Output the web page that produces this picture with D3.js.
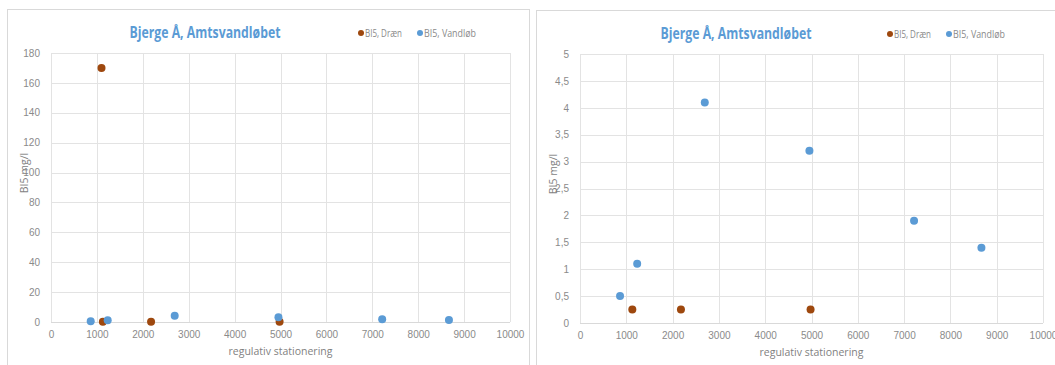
<!DOCTYPE html>
<html>
<head>
<meta charset="utf-8">
<script src="https://cdn.jsdelivr.net/npm/d3@7"></script>
<style>
  html, body { margin: 0; padding: 0; background: #fff; }
  svg { display: block; font-family: "Open Sans", "Liberation Sans", sans-serif; }
</style>
</head>
<body>
<svg id="chart" width="1055" height="365"></svg>
<script>
// Station (regulativ stationering) and BI5 values per series
const draenX = [1100, 1130, 2180, 4980];
const draenY = [170, 0.25, 0.25, 0.25];
const vandlobX = [865, 1235, 2695, 4955, 7215, 8670];
const vandlobY = [0.5, 1.1, 4.1, 3.2, 1.9, 1.4];

const titleText = "Bjerge Å, Amtsvandløbet";
const seriesNames = ["BI5, Dræn", "BI5, Vandløb"];
const xLabel = "regulativ stationering";
const yLabel = "BI5 mg/l";
const xTicks = [0, 1000, 2000, 3000, 4000, 5000, 6000, 7000, 8000, 9000, 10000];
const yTicksLeft = [0, 20, 40, 60, 80, 100, 120, 140, 160, 180];
const yTicksRight = [0, 0.5, 1, 1.5, 2, 2.5, 3, 3.5, 4, 4.5, 5];

const colors = ["#9E480E", "#5B9BD5"];
const series = [
  { name: seriesNames[0], color: colors[0], pts: draenX.map((x, i) => ({ x, y: draenY[i] })) },
  { name: seriesNames[1], color: colors[1], pts: vandlobX.map((x, i) => ({ x, y: vandlobY[i] })) }
];

const svg = d3.select("#chart");
const fmt = d3.formatLocale({ decimal: ",", thousands: ".", grouping: [3], currency: ["", " kr"] }).format("~g");

// squeeze a text horizontally to a given width, keeping its height
function squeeze(sel, width) {
  if (sel.node().getComputedTextLength() > width) {
    sel.attr("textLength", width).attr("lengthAdjust", "spacingAndGlyphs");
  }
  return sel;
}

function panel(opts) {
  const g = svg.append("g");
  // chart frame
  g.append("rect")
    .attr("x", opts.frame[0] + 0.5).attr("y", opts.frame[1] + 0.5)
    .attr("width", opts.frame[2]).attr("height", opts.frame[3])
    .attr("fill", "#fff").attr("stroke", "#d9d9d9");

  const x = d3.scaleLinear().domain([0, 10000]).range([opts.plot[0], opts.plot[1]]);
  const y = d3.scaleLinear().domain(opts.yDomain).range([opts.plot[3], opts.plot[2]]);

  // gridlines
  g.append("g").selectAll("line").data(xTicks.slice(1)).join("line")
    .attr("x1", d => Math.round(x(d)) + 0.5).attr("x2", d => Math.round(x(d)) + 0.5)
    .attr("y1", opts.plot[2]).attr("y2", opts.plot[3])
    .attr("stroke", "#e3e3e3");
  g.append("g").selectAll("line").data(opts.yTicks.slice(1)).join("line")
    .attr("x1", opts.plot[0]).attr("x2", opts.plot[1])
    .attr("y1", d => Math.round(y(d)) + 0.5).attr("y2", d => Math.round(y(d)) + 0.5)
    .attr("stroke", "#e3e3e3");
  // axis lines
  g.append("line")
    .attr("x1", opts.plot[0]).attr("x2", opts.plot[1])
    .attr("y1", Math.round(y(0)) + 0.5).attr("y2", Math.round(y(0)) + 0.5)
    .attr("stroke", "#d9d9d9");
  g.append("line")
    .attr("x1", Math.round(x(0)) + 0.5).attr("x2", Math.round(x(0)) + 0.5)
    .attr("y1", opts.plot[2]).attr("y2", opts.plot[3])
    .attr("stroke", "#e3e3e3");

  // tick labels via d3 axes
  const xAxis = g.append("g").attr("transform", `translate(0,${opts.plot[3] + 4})`)
    .call(d3.axisBottom(x).tickValues(xTicks).tickFormat(d3.format("d")).tickSize(0));
  xAxis.select(".domain").remove();
  xAxis.selectAll("text").attr("fill", "#8a8a8a").attr("font-size", 10).attr("dy", "0.9em");

  const yAxis = g.append("g").attr("transform", `translate(${opts.plot[0] - 8},0)`)
    .call(d3.axisLeft(y).tickValues(opts.yTicks).tickFormat(fmt).tickSize(0));
  yAxis.select(".domain").remove();
  yAxis.selectAll("text").attr("fill", "#8a8a8a").attr("font-size", 10);

  // axis titles
  g.append("text")
    .attr("x", (opts.plot[0] + opts.plot[1]) / 2).attr("y", opts.plot[3] + 33)
    .attr("text-anchor", "middle").attr("fill", "#7f7f7f").attr("font-size", 10.5)
    .text(xLabel);
  g.append("text")
    .attr("transform", `translate(${opts.plot[0] - 23},${opts.plot[2] + 120}) rotate(-90)`)
    .attr("text-anchor", "middle").attr("fill", "#7f7f7f").attr("font-size", 10.5)
    .text(yLabel);

  // title
  const title = g.append("text")
    .attr("x", opts.titleX).attr("y", opts.plot[2] - 15)
    .attr("text-anchor", "middle").attr("fill", "#5B9BD5")
    .attr("font-size", 16).attr("font-weight", "bold")
    .text(titleText);
  squeeze(title, 151);

  // legend
  const lg = g.append("g").attr("transform", `translate(${opts.legendX},${opts.plot[2] - 20})`);
  const offsets = [0, 59];
  const widths = [37, 52];
  series.forEach((s, i) => {
    lg.append("circle").attr("cx", offsets[i]).attr("cy", 0).attr("r", 3).attr("fill", s.color);
    const t = lg.append("text").attr("x", offsets[i] + 4).attr("y", 3.5)
      .attr("fill", "#8a8a8a").attr("font-size", 10).text(s.name);
    squeeze(t, widths[i]);
  });

  // points, clipped to plot area
  const clipId = "clip" + opts.id;
  g.append("clipPath").attr("id", clipId).append("rect")
    .attr("x", opts.plot[0] - 6).attr("y", opts.plot[2] - 6)
    .attr("width", opts.plot[1] - opts.plot[0] + 12).attr("height", opts.plot[3] - opts.plot[2] + 12);
  const pg = g.append("g").attr("clip-path", `url(#${clipId})`);
  series.forEach(s => {
    pg.selectAll(null).data(s.pts.filter(p => p.y <= opts.yDomain[1])).join("circle")
      .attr("cx", d => x(d.x)).attr("cy", d => y(d.y)).attr("r", 4)
      .attr("fill", s.color);
  });
}

panel({ id: "a", frame: [7, 9, 522, 370], plot: [51, 510, 53, 322], yDomain: [0, 180], yTicks: yTicksLeft, titleX: 205, legendX: 361 });
panel({ id: "b", frame: [536, 10, 530, 370], plot: [580, 1043, 54, 323], yDomain: [0, 5], yTicks: yTicksRight, titleX: 736, legendX: 890 });
</script>
</body>
</html>
